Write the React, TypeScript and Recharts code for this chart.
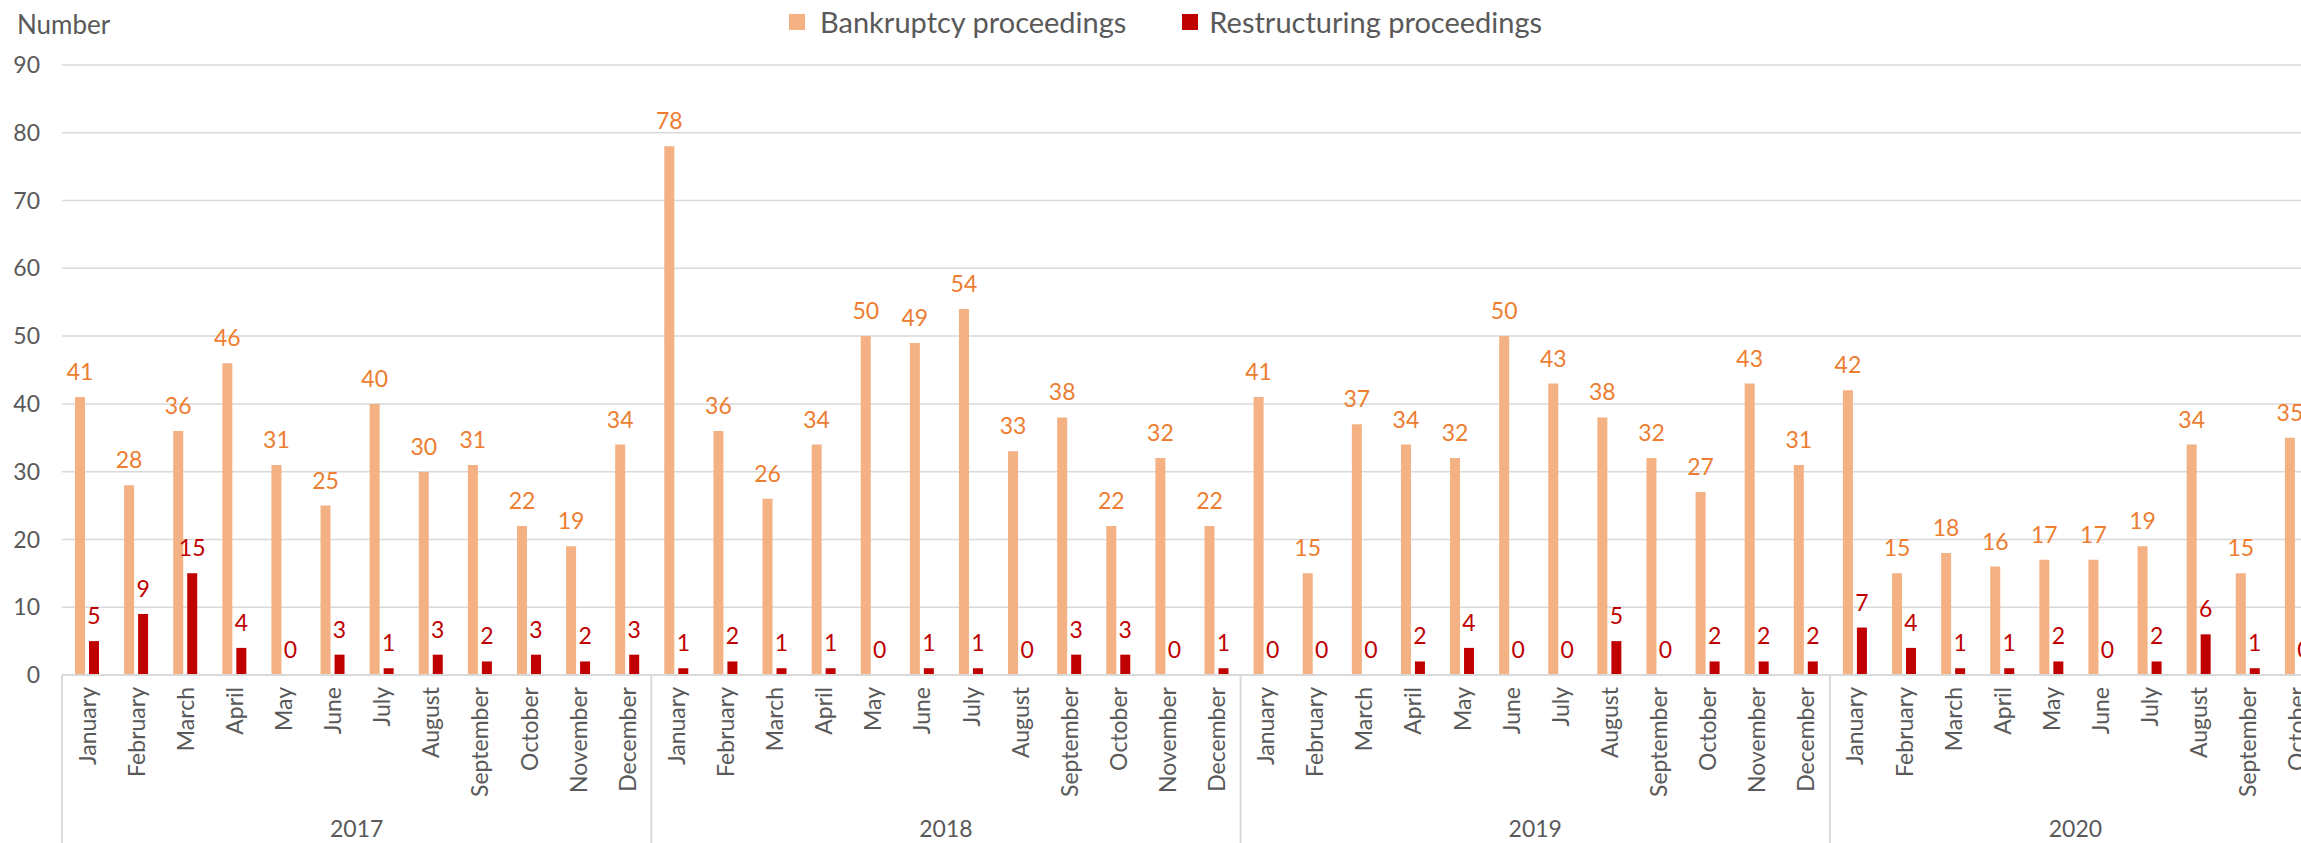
import { BarChart, Bar, XAxis, YAxis, CartesianGrid, LabelList } from "recharts";

const MONTHS = [
  "January", "February", "March", "April", "May", "June",
  "July", "August", "September", "October", "November", "December",
];
const YEARS = ["2017", "2018", "2019", "2020"];

const BANKRUPTCY_2017 = [41, 28, 36, 46, 31, 25, 40, 30, 31, 22, 19, 34];
const BANKRUPTCY_2018 = [78, 36, 26, 34, 50, 49, 54, 33, 38, 22, 32, 22];
const BANKRUPTCY_2019 = [41, 15, 37, 34, 32, 50, 43, 38, 32, 27, 43, 31];
const BANKRUPTCY_2020 = [42, 15, 18, 16, 17, 17, 19, 34, 15, 35];

const RESTRUCTURING_2017 = [5, 9, 15, 4, 0, 3, 1, 3, 2, 3, 2, 3];
const RESTRUCTURING_2018 = [1, 2, 1, 1, 0, 1, 1, 0, 3, 3, 0, 1];
const RESTRUCTURING_2019 = [0, 0, 0, 2, 4, 0, 0, 5, 0, 2, 2, 2];
const RESTRUCTURING_2020 = [7, 4, 1, 1, 2, 0, 2, 6, 1, 0];

const Y_TICKS = [0, 10, 20, 30, 40, 50, 60, 70, 80, 90];

const BANKRUPTCY = [BANKRUPTCY_2017, BANKRUPTCY_2018, BANKRUPTCY_2019, BANKRUPTCY_2020];
const RESTRUCTURING = [RESTRUCTURING_2017, RESTRUCTURING_2018, RESTRUCTURING_2019, RESTRUCTURING_2020];

type Row = {
  key: string;
  month: string;
  year: string;
  monthIndex: number;
  yearCount: number;
  bankruptcy: number;
  restructuring: number;
};

const rows: Row[] = YEARS.flatMap((year, yi) =>
  BANKRUPTCY[yi].map((b, mi) => ({
    key: `${year}-${mi}`,
    month: MONTHS[mi],
    year,
    monthIndex: mi,
    yearCount: BANKRUPTCY[yi].length,
    bankruptcy: b,
    restructuring: RESTRUCTURING[yi][mi],
  }))
);

const FONT = "Lato, 'Open Sans', sans-serif";
const GREY = "#595959";
const LINE = "#D9D9D9";
const ORANGE_BAR = "#F4B183";
const ORANGE_TEXT = "#ED7D31";
const RED = "#C00000";

const Y_AXIS_W = 62;
const PLOT_W = 2259;
const CHART_W = Y_AXIS_W + PLOT_W;
const CHART_H = 843;
const TOP = 65;
const X_AXIS_H = 168;
const BAND = PLOT_W / rows.length;
const LABEL_GAP = 17;

function MonthTick(props: any) {
  const { x, y, payload } = props;
  const row = rows.find((r) => r.key === payload.value);
  if (!row) return null;
  const left = x - BAND / 2;
  return (
    <g>
      <text
        transform={`translate(${x},${y + 12}) rotate(-90)`}
        textAnchor="end"
        dominantBaseline="central"
        fill={GREY}
        fontSize={23}
        fontFamily={FONT}
      >
        {row.month}
      </text>
      {row.monthIndex === 0 && (
        <>
          <line x1={left} x2={left} y1={y} y2={CHART_H} stroke={LINE} strokeWidth={2} />
          <text
            x={left + (row.yearCount * BAND) / 2}
            y={828}
            textAnchor="middle"
            dominantBaseline="central"
            fill={GREY}
            fontSize={23}
            fontFamily={FONT}
          >
            {row.year}
          </text>
        </>
      )}
    </g>
  );
}

// draws the value above the bar, zeros included
const valueLabel = (color: string) => (p: any) => {
  const x = Number(p.x) + Number(p.width) / 2;
  const y = Number(p.y) - LABEL_GAP;
  return (
    <text x={x} y={y} textAnchor="middle" fill={color} fontSize={23} fontFamily={FONT}>
      {String(p.value)}
    </text>
  );
};

export default function App() {
  return (
    <div
      style={{
        position: "fixed",
        left: 0,
        top: 0,
        width: 2301,
        height: 843,
        overflow: "hidden",
        background: "#fff",
        fontFamily: FONT,
      }}
    >
      <div style={{ position: "absolute", left: 17, top: 8, fontSize: 26, color: GREY }}>Number</div>
      <div
        style={{
          position: "absolute",
          left: 789,
          top: 4,
          display: "flex",
          alignItems: "center",
          fontSize: 29,
          color: GREY,
          whiteSpace: "nowrap",
        }}
      >
        <span style={{ width: 16, height: 16, background: ORANGE_BAR, marginRight: 15 }} />
        <span style={{ marginRight: 56 }}>Bankruptcy proceedings</span>
        <span style={{ width: 16, height: 16, background: RED, marginRight: 11 }} />
        <span>Restructuring proceedings</span>
      </div>
      <BarChart
        width={CHART_W}
        height={CHART_H}
        data={rows}
        margin={{ top: TOP, right: 0, bottom: 0, left: 0 }}
        barSize={10}
        barGap={4}
      >
        <CartesianGrid vertical={false} stroke={LINE} strokeWidth={1.5} />
        <XAxis
          dataKey="key"
          interval={0}
          height={X_AXIS_H}
          tickLine={false}
          tickSize={0}
          tickMargin={0}
          axisLine={{ stroke: LINE, strokeWidth: 2 }}
          tick={<MonthTick />}
        />
        <YAxis
          width={Y_AXIS_W}
          domain={[0, 90]}
          ticks={Y_TICKS}
          interval={0}
          axisLine={false}
          tickLine={false}
          tickSize={0}
          tickMargin={22}
          tick={{ fill: GREY, fontSize: 23, fontFamily: FONT }}
        />
        <Bar dataKey="bankruptcy" fill={ORANGE_BAR} minPointSize={0.01} isAnimationActive={false}>
          <LabelList dataKey="bankruptcy" content={valueLabel(ORANGE_TEXT)} />
        </Bar>
        <Bar dataKey="restructuring" fill={RED} minPointSize={0.01} isAnimationActive={false}>
          <LabelList dataKey="restructuring" content={valueLabel(RED)} />
        </Bar>
      </BarChart>
    </div>
  );
}
